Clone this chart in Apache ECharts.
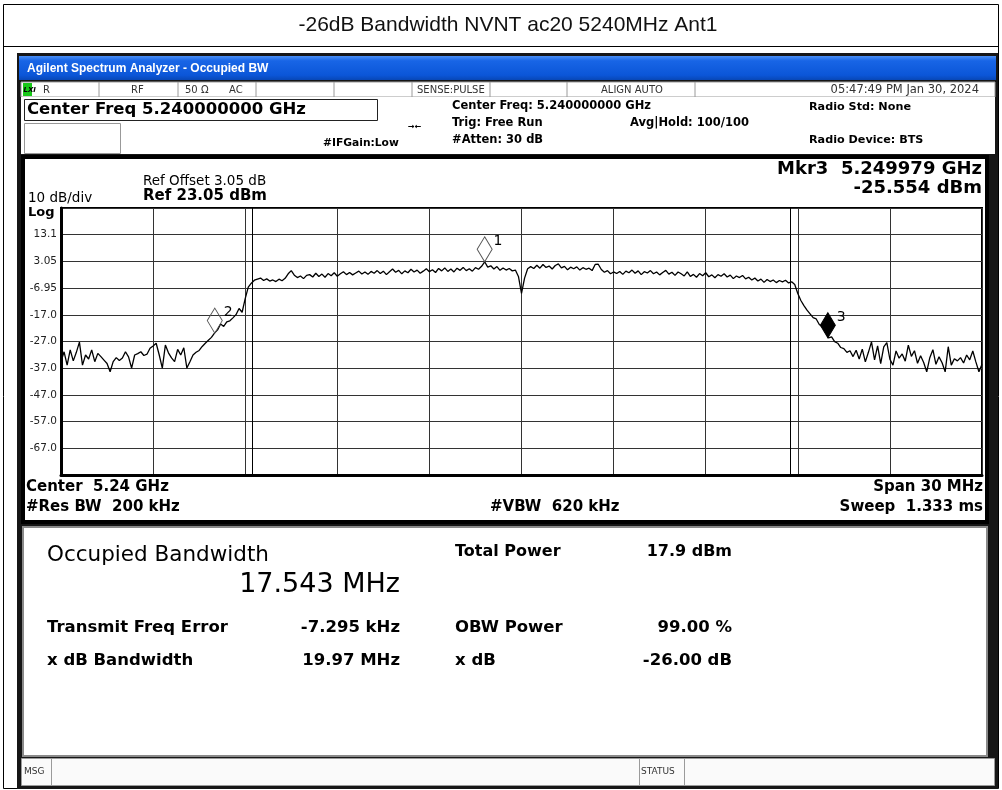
<!DOCTYPE html>
<html>
<head>
<meta charset="utf-8">
<script src="https://cdn.jsdelivr.net/npm/echarts@6/dist/echarts.min.js"></script>
<style>
html,body{margin:0;padding:0;background:#fff;}
#chart{width:1002px;height:790px;}
</style>
</head>
<body>
<div id="chart"></div>
<script>
// ---- data ----
const freqMHz = [
5225.0,5225.1,5225.2,5225.3,5225.4,5225.5,5225.6,5225.7,5225.8,5225.9,
5226.0,5226.1,5226.2,5226.3,5226.4,5226.5,5226.6,5226.7,5226.8,5226.9,
5227.0,5227.1,5227.2,5227.3,5227.4,5227.5,5227.6,5227.7,5227.8,5227.9,
5228.0,5228.1,5228.2,5228.3,5228.4,5228.5,5228.6,5228.7,5228.8,5228.9,
5229.0,5229.1,5229.2,5229.3,5229.4,5229.5,5229.6,5229.7,5229.8,5229.9,
5230.0,5230.1,5230.2,5230.3,5230.4,5230.5,5230.6,5230.7,5230.8,5230.9,
5231.0,5231.1,5231.2,5231.3,5231.4,5231.5,5231.6,5231.7,5231.8,5231.9,
5232.0,5232.1,5232.2,5232.3,5232.4,5232.5,5232.6,5232.7,5232.8,5232.9,
5233.0,5233.1,5233.2,5233.3,5233.4,5233.5,5233.6,5233.7,5233.8,5233.9,
5234.0,5234.1,5234.2,5234.3,5234.4,5234.5,5234.6,5234.7,5234.8,5234.9,
5235.0,5235.1,5235.2,5235.3,5235.4,5235.5,5235.6,5235.7,5235.8,5235.9,
5236.0,5236.1,5236.2,5236.3,5236.4,5236.5,5236.6,5236.7,5236.8,5236.9,
5237.0,5237.1,5237.2,5237.3,5237.4,5237.5,5237.6,5237.7,5237.8,5237.9,
5238.0,5238.1,5238.2,5238.3,5238.4,5238.5,5238.6,5238.7,5238.8,5238.9,
5239.0,5239.1,5239.2,5239.3,5239.4,5239.5,5239.6,5239.7,5239.8,5239.9,
5240.0,5240.1,5240.2,5240.3,5240.4,5240.5,5240.6,5240.7,5240.8,5240.9,
5241.0,5241.1,5241.2,5241.3,5241.4,5241.5,5241.6,5241.7,5241.8,5241.9,
5242.0,5242.1,5242.2,5242.3,5242.4,5242.5,5242.6,5242.7,5242.8,5242.9,
5243.0,5243.1,5243.2,5243.3,5243.4,5243.5,5243.6,5243.7,5243.8,5243.9,
5244.0,5244.1,5244.2,5244.3,5244.4,5244.5,5244.6,5244.7,5244.8,5244.9,
5245.0,5245.1,5245.2,5245.3,5245.4,5245.5,5245.6,5245.7,5245.8,5245.9,
5246.0,5246.1,5246.2,5246.3,5246.4,5246.5,5246.6,5246.7,5246.8,5246.9,
5247.0,5247.1,5247.2,5247.3,5247.4,5247.5,5247.6,5247.7,5247.8,5247.9,
5248.0,5248.1,5248.2,5248.3,5248.4,5248.5,5248.6,5248.7,5248.8,5248.9,
5249.0,5249.1,5249.2,5249.3,5249.4,5249.5,5249.6,5249.7,5249.8,5249.9,
5250.0,5250.1,5250.2,5250.3,5250.4,5250.5,5250.6,5250.7,5250.8,5250.9,
5251.0,5251.1,5251.2,5251.3,5251.4,5251.5,5251.6,5251.7,5251.8,5251.9,
5252.0,5252.1,5252.2,5252.3,5252.4,5252.5,5252.6,5252.7,5252.8,5252.9,
5253.0,5253.1,5253.2,5253.3,5253.4,5253.5,5253.6,5253.7,5253.8,5253.9,
5254.0,5254.1,5254.2,5254.3,5254.4,5254.5,5254.6,5254.7,5254.8,5254.9,
5255.0
];
const levelDbm = [
-34.5,-30.8,-35.8,-30.1,-34.2,-31.0,-27.2,-35.8,-32.0,-33.5,
-30.1,-34.5,-31.4,-32.6,-33.9,-35.2,-38.3,-34.5,-33.0,-34.1,
-33.1,-30.8,-32.7,-36.9,-32.0,-31.5,-30.8,-32.2,-31.7,-29.5,
-28.6,-27.6,-32.0,-36.9,-28.3,-31.2,-33.1,-34.5,-29.9,-32.0,
-29.3,-36.9,-34.5,-32.0,-31.0,-30.3,-28.8,-27.6,-26.5,-25.4,
-23.8,-22.6,-20.4,-21.3,-19.6,-19.2,-18.1,-16.9,-14.6,-16.0,
-10.9,-6.6,-5.1,-4.0,-3.6,-3.2,-4.1,-3.5,-4.3,-3.9,
-4.5,-3.6,-4.2,-3.3,-1.6,-0.4,-2.1,-3.0,-2.4,-3.4,
-2.2,-1.9,-2.8,-1.4,-2.6,-1.7,-2.9,-1.5,-2.3,-1.2,
-2.5,-1.6,-0.8,-1.9,-1.1,-2.0,-1.3,-0.6,-1.7,-0.9,
-1.8,-0.7,-1.4,-0.4,-1.5,-0.6,-1.9,-0.8,0.2,-1.0,
-0.3,-1.6,-0.5,-1.2,0.1,-0.9,-0.2,-1.4,-0.6,0.3,
-0.8,-0.1,-1.1,0.4,-0.5,0.6,-0.7,0.2,-0.9,0.5,
-0.3,0.8,-0.4,0.3,-0.6,0.7,0.1,1.2,2.9,0.9,
1.4,0.2,1.1,-0.3,0.6,-0.2,0.4,-0.5,-0.2,-2.6,
-8.9,-3.2,0.3,1.1,0.4,1.6,0.5,1.9,0.8,1.3,
0.2,1.5,2.1,0.6,1.2,-0.1,0.9,0.3,1.0,-0.2,
0.7,0.1,0.5,-0.4,1.9,2.0,0.0,-1.0,-0.4,-1.6,
-0.9,-1.5,-0.7,-1.8,-0.6,-1.2,-0.2,-1.4,-0.5,-1.9,
-0.8,-1.3,-0.4,-1.6,-0.9,-2.0,-1.1,-0.3,-1.7,-1.0,
-2.2,-0.9,-1.6,-2.4,-0.9,-2.6,-1.8,-2.9,-1.5,-2.3,
-1.2,-2.7,-2.0,-3.1,-1.9,-2.5,-1.6,-2.8,-2.1,-3.4,
-2.4,-3.0,-2.2,-3.5,-2.9,-3.9,-3.2,-4.3,-3.6,-4.8,
-3.7,-4.5,-3.9,-4.9,-4.1,-4.6,-4.0,-5.0,-4.6,-5.6,
-9.0,-11.6,-13.5,-15.2,-16.6,-18.0,-18.5,-20.6,-21.4,-23.0,
-25.6,-25.2,-27.0,-27.6,-29.2,-29.6,-31.0,-30.4,-32.6,-30.2,
-33.5,-29.8,-34.6,-31.0,-27.1,-33.8,-28.6,-35.2,-29.0,-27.4,
-33.6,-35.8,-30.5,-33.2,-31.6,-34.3,-28.3,-32.5,-30.4,-35.1,
-32.3,-34.8,-38.3,-33.0,-30.0,-35.5,-32.7,-34.9,-38.3,-28.9,
-35.8,-33.4,-34.2,-33.0,-35.0,-32.0,-33.8,-30.5,-34.6,-38.3,
-35.5
];
const markerLabels = ['1', '2', '3'];
const markerFreqMHz = [5238.8, 5230.009, 5249.979];
const markerLevelDbm = [2.9, -23.8, -25.554];
const obwEdgesMHz = [5231.22, 5248.76];
const spanMHz = [5225, 5255];
const refLevelDbm = 23.05;
const bottomLevelDbm = -76.95;
const yTickLabels = ['13.1', '3.05', '-6.95', '-17.0', '-27.0', '-37.0', '-47.0', '-57.0', '-67.0'];

// ---- chrome helpers ----
const DV = "'DejaVu Sans'";
function T(text, x, y, font, align, color) {
  return { type: 'text', x: x, y: y, z: 20,
    style: { text: text, font: font, fill: color || '#000', align: align || 'left', verticalAlign: 'middle' } };
}
function R(x, y, w, h, fill, stroke, lw, z) {
  return { type: 'rect', z: z === undefined ? -10 : z, shape: { x: x, y: y, width: w, height: h },
    style: { fill: fill || 'none', stroke: stroke || null, lineWidth: lw || 0 } };
}
function L(x1, y1, x2, y2, stroke, lw, z) {
  return { type: 'line', z: z === undefined ? -5 : z, shape: { x1: x1, y1: y1, x2: x2, y2: y2 },
    style: { stroke: stroke, lineWidth: lw || 1 } };
}

const elements = [
  // report frame
  R(3.5, 4.5, 995, 784, '#fff', '#000', 1, -30),
  L(3, 46.5, 999, 46.5, '#000', 1, -29),
  T('-26dB Bandwidth NVNT ac20 5240MHz Ant1', 508, 25, "21px 'Liberation Sans'", 'center', '#111'),
  // instrument screenshot
  R(17, 53, 981, 736, '#161616', null, 0, -25),
  { type: 'rect', z: -20, shape: { x: 19, y: 56, width: 977, height: 24 },
    style: { fill: new echarts.graphic.LinearGradient(0, 0, 0, 1, [
      { offset: 0, color: '#4b8ff4' }, { offset: 0.2, color: '#1865e6' },
      { offset: 0.8, color: '#0b56d8' }, { offset: 1, color: '#0847b6' }]) } },
  T('Agilent Spectrum Analyzer - Occupied BW', 27, 69, "bold 12px 'Liberation Sans'", 'left', '#fff'),
  // status row
  R(21, 82, 974, 15, '#fff', '#9a9a9a', 1, -20),
  L(99, 82, 99, 97, '#9a9a9a'), L(178, 82, 178, 97, '#9a9a9a'), L(256, 82, 256, 97, '#9a9a9a'),
  L(334, 82, 334, 97, '#9a9a9a'), L(412, 82, 412, 97, '#9a9a9a'), L(490, 82, 490, 97, '#9a9a9a'),
  L(567, 82, 567, 97, '#9a9a9a'), L(695, 82, 695, 97, '#9a9a9a'),
  R(23, 83, 9, 13, '#18c818', null, 0, -15),
  T('LXI', 23.5, 90, "italic bold 7px " + DV, 'left', '#000'),
  T('R', 43, 90, "10px " + DV, 'left', '#333'),
  T('RF', 131, 90, "10px " + DV, 'left', '#333'),
  T('50 \u03A9', 185, 90, "10px " + DV, 'left', '#333'),
  T('AC', 229, 90, "10px " + DV, 'left', '#333'),
  T('SENSE:PULSE', 417, 90, "10px " + DV, 'left', '#333'),
  T('ALIGN AUTO', 601, 90, "10px " + DV, 'left', '#333'),
  T('05:47:49 PM Jan 30, 2024', 979, 90, "11.5px " + DV, 'right', '#333'),
  // settings block
  R(21, 97, 974, 57, '#fff', null, 0, -20),
  R(24.5, 99.5, 353, 21, '#fff', '#222', 1, -15),
  T('Center Freq 5.240000000 GHz', 27, 110, "bold 16.5px " + DV, 'left', '#000'),
  R(24.5, 123.5, 96, 30, '#fff', '#999', 1, -15),
  T('#IFGain:Low', 323, 143, "bold 10.7px " + DV, 'left', '#000'),
  T('\u2192\u2190', 408, 127, "bold 8px " + DV, 'left', '#000'),
  T('Center Freq: 5.240000000 GHz', 452, 106, "bold 11.5px " + DV, 'left', '#000'),
  T('Trig: Free Run', 452, 123, "bold 11.5px " + DV, 'left', '#000'),
  T('Avg|Hold: 100/100', 630, 123, "bold 11.5px " + DV, 'left', '#000'),
  T('#Atten: 30 dB', 452, 140, "bold 11.5px " + DV, 'left', '#000'),
  T('Radio Std: None', 809, 107, "bold 11.2px " + DV, 'left', '#000'),
  T('Radio Device: BTS', 809, 140, "bold 11.2px " + DV, 'left', '#000'),
  // graph panel
  R(23, 157, 964, 365, '#fff', '#000', 4, -18),
  T('Ref Offset 3.05 dB', 143, 181, "13.5px " + DV, 'left', '#000'),
  T('Ref 23.05 dBm', 143, 196, "bold 15px " + DV, 'left', '#000'),
  T('10 dB/div', 28, 198, "13.5px " + DV, 'left', '#000'),
  T('Log', 28, 213, "bold 13px " + DV, 'left', '#000'),
  T('Mkr3  5.249979 GHz', 982, 169, "bold 18px " + DV, 'right', '#000'),
  T('-25.554 dBm', 982, 188, "bold 18px " + DV, 'right', '#000'),
  T('Center  5.24 GHz', 26, 487, "bold 15px " + DV, 'left', '#000'),
  T('#Res BW  200 kHz', 26, 507, "bold 15px " + DV, 'left', '#000'),
  T('#VBW  620 kHz', 490, 507, "bold 15px " + DV, 'left', '#000'),
  T('Span 30 MHz', 983, 487, "bold 15px " + DV, 'right', '#000'),
  T('Sweep  1.333 ms', 983, 507, "bold 15px " + DV, 'right', '#000'),
  // result panel
  R(23, 527, 964, 229, '#fff', '#8a8a8a', 2, -18),
  T('Occupied Bandwidth', 47, 555, "21.5px " + DV, 'left', '#000'),
  T('17.543 MHz', 400, 585, "27px " + DV, 'right', '#000'),
  T('Total Power', 455, 552, "bold 16px " + DV, 'left', '#000'),
  T('17.9 dBm', 732, 552, "bold 16px " + DV, 'right', '#000'),
  T('Transmit Freq Error', 47, 628, "bold 16.5px " + DV, 'left', '#000'),
  T('-7.295 kHz', 400, 628, "bold 16.5px " + DV, 'right', '#000'),
  T('OBW Power', 455, 628, "bold 16.5px " + DV, 'left', '#000'),
  T('99.00 %', 732, 628, "bold 16.5px " + DV, 'right', '#000'),
  T('x dB Bandwidth', 47, 661, "bold 16.5px " + DV, 'left', '#000'),
  T('19.97 MHz', 400, 661, "bold 16.5px " + DV, 'right', '#000'),
  T('x dB', 455, 661, "bold 16.5px " + DV, 'left', '#000'),
  T('-26.00 dB', 732, 661, "bold 16.5px " + DV, 'right', '#000'),
  // message bar
  R(21.5, 758.5, 973, 27, '#fafafa', '#9a9a9a', 1, -18),
  L(51.5, 759, 51.5, 785, '#9a9a9a'), L(639.5, 759, 639.5, 785, '#9a9a9a'), L(684.5, 759, 684.5, 785, '#9a9a9a'),
  T('MSG', 24, 772, "9px " + DV, 'left', '#333'),
  T('STATUS', 641, 772, "9px " + DV, 'left', '#333')
];

const chart = echarts.init(document.getElementById('chart'), null, { renderer: 'canvas' });
chart.setOption({
  animation: false,
  backgroundColor: '#fff',
  graphic: { elements: elements },
  grid: { left: 61, top: 208, width: 921, height: 267, show: true,
    backgroundColor: '#fff', borderColor: '#000', borderWidth: 2 },
  xAxis: {
    type: 'value', min: spanMHz[0], max: spanMHz[1], interval: 3,
    axisLine: { show: true, onZero: false, lineStyle: { color: '#000', width: 3 } },
    axisTick: { show: false }, axisLabel: { show: false },
    splitLine: { show: true, lineStyle: { color: '#333', width: 1 } }
  },
  yAxis: {
    type: 'value', min: bottomLevelDbm, max: refLevelDbm, interval: 10,
    axisLine: { show: true, onZero: false, lineStyle: { color: '#000', width: 3 } },
    axisTick: { show: false },
    axisLabel: {
      show: true, margin: 4, fontSize: 10.5, fontFamily: 'DejaVu Sans', color: '#222',
      formatter: function (v) {
        const idx = Math.round((refLevelDbm - v) / 10) - 1;
        return yTickLabels[idx] !== undefined ? yTickLabels[idx] : '';
      }
    },
    splitLine: { show: true, lineStyle: { color: '#333', width: 1 } }
  },
  series: [
    {
      type: 'line', name: 'Trace', showSymbol: false, symbol: 'none',
      lineStyle: { color: '#000', width: 1.3 },
      data: freqMHz.map(function (f, i) { return [f, levelDbm[i]]; }),
      markLine: {
        silent: true, symbol: 'none', label: { show: false },
        lineStyle: { color: '#000', width: 1, type: 'solid' },
        data: obwEdgesMHz.map(function (f) { return { xAxis: f }; })
      },
      z: 3
    },
    {
      type: 'scatter', name: 'Markers', symbol: 'diamond', symbolSize: [15, 25],
      symbolOffset: [0, '-50%'],
      data: markerFreqMHz.map(function (f, i) {
        const filled = i === 2;
        return { value: [f, markerLevelDbm[i]],
          itemStyle: { opacity: 1, color: filled ? '#000' : 'rgba(255,255,255,0)', borderColor: filled ? '#000' : '#555', borderWidth: 1 } };
      }),
      label: { show: true, position: 'right', distance: 1, offset: [0, -8],
        formatter: function (p) { return markerLabels[p.dataIndex]; },
        fontSize: 14, fontFamily: 'DejaVu Sans', color: '#000' },
      z: 4
    }
  ]
});
</script>
</body>
</html>
